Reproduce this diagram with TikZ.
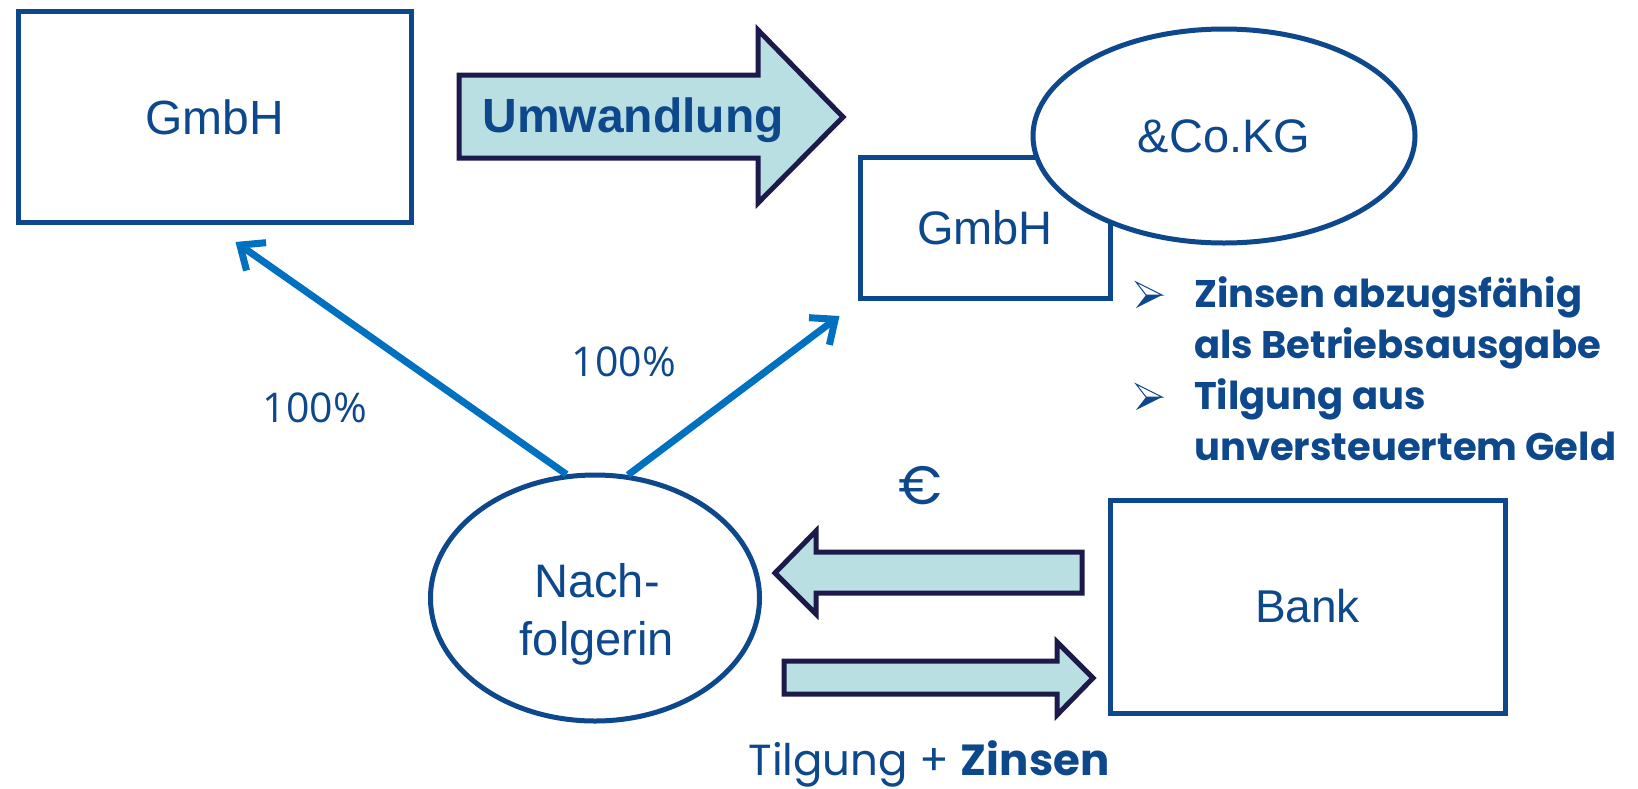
\documentclass[tikz,border=0pt]{standalone}
\usepackage{fontspec}
\setmainfont{Liberation Sans}
\newfontfamily\gothicfont{Poppins}
\newfontfamily\labelfont{Open Sans}
\usetikzlibrary{positioning, arrows.meta, shapes.geometric, calc}
\definecolor{textblue}{RGB}{14, 72, 140}
\definecolor{linkblue}{RGB}{0, 112, 192}
\definecolor{arrowfill}{RGB}{185, 223, 227}
\definecolor{arrowline}{RGB}{27, 26, 75}

\begin{document}
\begin{tikzpicture}[x=1pt, y=-1pt,
    box/.style={draw=textblue, line width=5pt, fill=white, text=textblue,
                font=\fontsize{47}{57}\selectfont, align=center},
    oval/.style={box, ellipse, inner sep=0pt},
    nametext/.style={text=textblue, font=\fontsize{47}{58}\selectfont, align=center},
    share/.style={-{Straight Barb[length=20pt, width=34pt]}, linkblue, line width=7pt},
    blockarrow/.style={draw=arrowline, line width=5pt, fill=arrowfill, line join=miter},
    pointtext/.style={text=textblue, font=\gothicfont\bfseries\fontsize{38.5}{51}\selectfont,
                      anchor=base west, align=left, inner sep=0pt}]
  \useasboundingbox[fill=white] (0,0) rectangle (1638,788);

  % Companies and the bank
  \node[box, minimum width=393, minimum height=211, font=\fontsize{48}{57}\selectfont]
        (gmbh) at (214.5,117) {GmbH};
  \node[box, minimum width=250, minimum height=141] (komplementaer) at (985,228) {GmbH};
  \node[oval, minimum width=382, minimum height=214] (kg) at (1224,136) {\&Co.KG};
  \node[box, minimum width=395, minimum height=213, font=\fontsize{46}{57}\selectfont]
        (bank) at (1307.5,606.5) {Bank};
  \node[oval, minimum width=329, minimum height=246] (nach) at (595,598) {};
  \node[nametext, anchor=base] (nachname) at (597,655) {Nach-\\folgerin};

  % Umwandlung
  \draw[blockarrow] (459,75) -- (758,75) -- (758,30) -- (843,117) -- (758,203)
        -- (758,158) -- (459,158) -- cycle;
  \node[text=textblue, font=\fontsize{48}{50}\selectfont\bfseries, anchor=base]
        (umw) at (633,132) {Umwandlung};

  % Shares held by the successor
  \coordinate (tipL) at ($(gmbh.south)+(21,17)$);
  \coordinate (tipR) at ($(komplementaer.south west)+(-18,15)$);
  \draw[share] (nach.103) -- (tipL);
  \draw[share] (nach.75) -- (tipR);
  \node[text=textblue, font=\labelfont\fontsize{41}{44}\selectfont] (anteilL) at (315,408) {100\%};
  \node[text=textblue, font=\labelfont\fontsize{41}{44}\selectfont] (anteilR) at (624,362) {100\%};

  % Loan and repayment
  \draw[blockarrow] (1082,552) -- (816,552) -- (816,531) -- (775,573) -- (816,614)
        -- (816,593) -- (1082,593) -- cycle;
  \draw[blockarrow] (784,661) -- (1057,661) -- (1057,642) -- (1093,678) -- (1057,715)
        -- (1057,694) -- (784,694) -- cycle;
  \node[text=textblue, font=\gothicfont\fontsize{54}{56}\selectfont] (euro) at (920,486) {€};
  \node[text=textblue, font=\gothicfont\fontsize{43.5}{46}\selectfont, anchor=base]
        (rueck) at (929,775) {Tilgung + \textbf{Zinsen}};

  % Tax advantages, with arrow-head bullets
  \foreach \y/\txt in {295/{Zinsen abzugsfähig\\als Betriebsausgabe},
                       397/{Tilgung aus\\unversteuertem Geld}}{
    \draw[textblue, line width=1pt, line join=miter] (1136,\y-13) -- (1162,\y) -- (1146,\y) -- cycle;
    \fill[textblue] (1146,\y) -- (1162,\y) -- (1136,\y+13) -- cycle;
    \node[pointtext] at (1194,\y+63) {\txt};
  }
\end{tikzpicture}
\end{document}
